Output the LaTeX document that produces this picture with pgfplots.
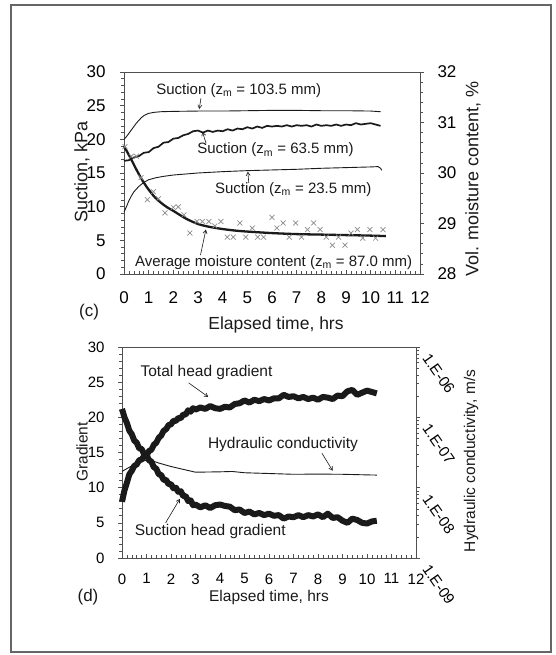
\documentclass[border=0pt]{standalone}
\usepackage{fontspec}
\setmainfont{Liberation Sans}
\usepackage{pgfplots}
\pgfplotsset{compat=1.18}
\usetikzlibrary{arrows.meta}
\definecolor{ln}{HTML}{1A1A1A}
\definecolor{ax}{HTML}{505050}
\definecolor{mk}{HTML}{8C8C8C}
\newcommand{\fs}[1]{\fontsize{#1}{#1}\selectfont}
\pgfplotsset{
  base/.style={scale only axis, xmin=0, xmax=12,
    /pgf/number format/assume math mode=true,
    axis line style={ax, line width=0.8pt},
    every tick/.style={ax, line width=0.6pt},
    major tick length=4pt, minor tick length=3pt,
    clip=false},
}
\tikzset{arr/.style={-{Straight Barb[length=3.5pt,width=4pt]}, line width=0.6pt, ln}}
\begin{document}
\begin{tikzpicture}
\useasboundingbox (0pt,0pt) rectangle (556pt,655pt);
\draw[line width=1.2pt, color=black!60] (11pt,3pt) rectangle (551pt,650pt);

% ---------------- panel (c) ----------------
\begin{axis}[base, at={(124pt,381pt)}, anchor=south west, width=296pt, height=202pt,
  ymin=0, ymax=30, ytick={0,5,...,30}, minor y tick num=4,
  xtick={0,...,12}, minor x tick num=4,
  xtick pos=bottom, ytick pos=left,
  xtick align=inside, ytick align=outside,
  xticklabel style={font=\fs{17}, yshift=-14pt},
  yticklabel style={font=\fs{17}, xshift=-11pt}]
\addplot[ln, line width=0.9pt] coordinates {(0,20.0)(0.1,20.4)(0.2,20.9)(0.3,21.4)(0.4,21.9)(0.5,22.4)(0.6,22.8)(0.7,23.2)(0.8,23.5)(0.9,23.7)(1.0,23.85)(1.2,24.0)(1.5,24.1)(2,24.15)(3,24.2)(4,24.2)(5,24.25)(6,24.3)(7,24.3)(8,24.25)(9,24.25)(10,24.2)(10.4,24.1)};
\addplot[ln, line width=1.7pt] coordinates {(0,16.8)(0.2,16.9)(0.4,17.3)(0.6,17.5)(0.8,18.0)(1.0,18.1)(1.2,18.7)(1.4,18.9)(1.6,19.5)(1.8,19.6)(2.0,20.1)(2.2,20.2)(2.4,20.6)(2.6,20.8)(2.8,21.2)(3.0,21.3)(3.2,21.0)(3.4,21.3)(3.6,21.1)(3.8,21.3)(4.0,21.2)(4.2,21.5)(4.4,21.3)(4.6,21.6)(4.8,21.5)(5.0,21.8)(5.2,21.6)(5.4,21.9)(5.6,21.7)(5.8,22.0)(6.0,21.9)(6.2,22.0)(6.4,21.9)(6.6,22.1)(6.8,21.9)(7.0,22.1)(7.2,22.0)(7.4,22.1)(7.6,21.9)(7.8,22.2)(8.0,22.0)(8.2,22.1)(8.4,22.0)(8.6,22.2)(8.8,22.0)(9.0,22.2)(9.2,22.1)(9.4,22.4)(9.6,22.2)(9.8,22.3)(10.0,22.4)(10.2,22.2)(10.4,22.0)};
\addplot[ln, line width=0.9pt] coordinates {(0,9.2)(0.1,10.0)(0.2,10.9)(0.3,11.6)(0.4,12.2)(0.5,12.6)(0.6,13.0)(0.7,13.3)(0.8,13.6)(1.0,14.0)(1.3,14.3)(1.6,14.5)(2,14.7)(2.5,14.85)(3,15.0)(4,15.2)(5,15.35)(6,15.45)(7,15.55)(8,15.7)(9,15.8)(10,15.9)(10.3,15.95)(10.4,15.7)(10.45,15.4)};
\node[font=\fs{15}, ln] at (axis cs:4.65,27.3) {Suction (z\textsubscript{m} = 103.5 mm)};
\draw[arr] (axis cs:3.12,26.1) -- (axis cs:3.05,24.5);
\node[font=\fs{15}, ln] at (axis cs:6.14,18.4) {Suction (z\textsubscript{m} = 63.5 mm)};
\draw[arr] (axis cs:3.33,19.4) -- (axis cs:3.18,21.1);
\node[font=\fs{15}, ln] at (axis cs:6.86,12.6) {Suction (z\textsubscript{m} = 23.5 mm)};
\draw[arr] (axis cs:5.06,13.5) -- (axis cs:5.02,15.2);
\node[font=\fs{15}, ln] at (axis cs:6.07,1.74) {Average moisture content (z\textsubscript{m} = 87.0 mm)};
\draw[arr] (axis cs:3.1,2.8) -- (axis cs:3.32,6.6);
\end{axis}
\begin{axis}[base, at={(124pt,381pt)}, anchor=south west, width=296pt, height=202pt,
  ymin=28, ymax=32, ytick={28,...,32}, minor y tick num=4,
  axis y line*=right, axis x line=none, ytick align=outside,
  yticklabel style={font=\fs{17}, xshift=10pt}]
\addplot[only marks, mark=x, mark size=3.5pt, mk, mark options={line width=0.7pt}] coordinates {
(0.04,30.52)(0.3,30.33)(0.5,30.33)(0.69,29.91)(0.95,29.47)(1.19,29.63)(1.39,29.49)(1.66,29.21)(2.0,29.32)(2.2,29.33)(2.43,29.17)(2.67,28.81)(2.96,29.04)(3.18,29.04)(3.44,29.04)(3.68,28.95)(3.93,29.04)(4.19,28.73)(4.43,28.73)(4.7,29.01)(4.94,28.73)(5.2,28.91)(5.42,28.73)(5.66,28.73)(6.0,29.12)(6.2,28.91)(6.45,29.01)(6.7,28.73)(6.96,29.01)(7.2,28.73)(7.44,28.88)(7.69,29.01)(7.95,28.88)(8.2,28.73)(8.45,28.57)(8.7,28.73)(8.96,28.57)(9.2,28.81)(9.46,28.88)(9.68,28.71)(9.97,28.88)(10.2,28.71)(10.5,28.88)};
\addplot[ln, line width=2.3pt, smooth] coordinates {(0,30.53)(0.25,30.31)(0.5,30.07)(0.75,29.85)(1,29.67)(1.25,29.52)(1.5,29.41)(1.75,29.32)(2,29.25)(2.5,29.1)(3,28.99)(3.5,28.93)(4,28.89)(4.5,28.86)(5,28.84)(6,28.81)(7,28.79)(8,28.78)(9,28.77)(10,28.76)(10.62,28.75)};
\end{axis}
\node[font=\fs{18}, rotate=90, ln] at (82pt,483pt) {Suction, kPa};
\node[font=\fs{18}, rotate=90, ln] at (473pt,476pt) {Vol. moisture content, \%};
\node[font=\fs{17.5}, ln] at (276pt,330pt) {Elapsed time, hrs};
\node[font=\fs{17}, ln] at (89pt,343pt) {(c)};

% ---------------- panel (d) ----------------
\begin{axis}[base, at={(122pt,97pt)}, anchor=south west, width=294pt, height=211pt,
  ymin=0, ymax=30, ytick={0,5,...,30}, minor y tick num=4,
  xtick={0,...,12}, minor x tick num=4,
  xtick pos=bottom, ytick pos=left,
  xtick align=inside, ytick align=outside,
  xticklabel style={font=\fs{15}, yshift=-12pt},
  yticklabel style={font=\fs{15}, xshift=-10pt}]
\addplot[ln, line width=6pt, line join=round] coordinates {(0,8.0)(0.1,9.6)(0.2,10.7)(0.3,11.9)(0.4,12.4)(0.5,13.1)(0.6,13.3)(0.7,13.9)(0.8,14.0)(0.9,14.5)(1.0,14.6)(1.1,15.2)(1.2,15.4)(1.3,16.1)(1.4,16.4)(1.5,17.1)(1.6,17.4)(1.7,18.1)(1.8,18.3)(1.9,18.9)(2.0,19.0)(2.1,19.5)(2.2,19.5)(2.3,19.9)(2.4,19.9)(2.5,20.4)(2.6,20.4)(2.7,21.0)(2.8,20.8)(2.9,21.3)(3.0,21.1)(3.2,21.4)(3.4,21.2)(3.6,21.6)(3.8,21.3)(4.0,21.2)(4.2,21.5)(4.4,21.4)(4.6,21.9)(4.8,22.0)(5.0,22.4)(5.2,22.1)(5.4,22.5)(5.6,22.3)(5.8,22.6)(6.0,22.4)(6.2,22.7)(6.4,22.7)(6.6,23.2)(6.8,22.9)(7.0,23.0)(7.2,22.7)(7.4,22.9)(7.6,22.6)(7.8,22.8)(8.0,22.5)(8.2,22.9)(8.4,22.8)(8.6,22.6)(8.8,23.1)(9.0,23.0)(9.2,23.7)(9.4,23.9)(9.6,23.2)(9.8,23.5)(10.0,23.8)(10.2,23.6)(10.4,23.4)};
\addplot[ln, line width=6pt, line join=round] coordinates {(0,21.2)(0.1,20.0)(0.2,19.2)(0.3,18.1)(0.4,17.6)(0.5,16.7)(0.6,16.4)(0.7,15.6)(0.8,15.5)(0.9,14.8)(1.0,14.7)(1.1,13.9)(1.2,13.7)(1.3,12.9)(1.4,12.7)(1.5,11.9)(1.6,11.8)(1.7,11.1)(1.8,11.1)(1.9,10.5)(2.0,10.5)(2.1,9.9)(2.2,10.0)(2.3,9.4)(2.4,9.5)(2.5,8.8)(2.6,8.8)(2.7,8.1)(2.8,8.2)(2.9,7.5)(3.0,7.6)(3.2,7.2)(3.4,7.5)(3.6,7.1)(3.8,7.5)(4.0,7.6)(4.2,7.4)(4.4,7.3)(4.6,6.8)(4.8,6.9)(5.0,6.4)(5.2,6.6)(5.4,6.2)(5.6,6.4)(5.8,6.1)(6.0,6.3)(6.2,6.0)(6.4,6.1)(6.6,5.6)(6.8,5.9)(7.0,5.8)(7.2,6.1)(7.4,5.8)(7.6,6.1)(7.8,5.9)(8.0,6.2)(8.2,5.8)(8.4,6.3)(8.6,5.7)(8.8,5.8)(9.0,5.3)(9.2,5.0)(9.4,5.6)(9.6,5.4)(9.8,5.0)(10.0,4.9)(10.2,5.2)(10.4,5.3)};
\node[font=\fs{15.5}, ln] at (axis cs:3.45,26.4) {Total head gradient};
\draw[arr] (axis cs:2.72,24.9) -- (axis cs:3.52,22.9);
\node[font=\fs{15.5}, ln] at (axis cs:6.57,16.1) {Hydraulic conductivity};
\draw[arr] (axis cs:8.16,14.9) -- (axis cs:8.6,12.4);
\node[font=\fs{15.5}, ln] at (axis cs:3.6,3.7) {Suction head gradient};
\draw[arr] (axis cs:1.78,5.0) -- (axis cs:2.36,8.4);
\end{axis}
\begin{axis}[base, at={(122pt,97pt)}, anchor=south west, width=294pt, height=211pt,
  ymode=log, ymin=1e-9, ymax=1e-6,
  axis y line*=right, axis x line=none, ytick align=outside,
  ytick={1e-9,1e-8,1e-7,1e-6},
  yticklabels={1.E-09,1.E-08,1.E-07,1.E-06},
  minor ytick={2e-9,3e-9,4e-9,5e-9,6e-9,7e-9,8e-9,9e-9,2e-8,3e-8,4e-8,5e-8,6e-8,7e-8,8e-8,9e-8,2e-7,3e-7,4e-7,5e-7,6e-7,7e-7,8e-7,9e-7},
  yticklabel style={font=\fs{15}, rotate=-55, anchor=west, xshift=7pt}]
\addplot[ln, line width=0.9pt] coordinates {(0,1.70e-8)(0.25,1.91e-8)(0.5,2.14e-8)(0.75,2.34e-8)(1.0,2.45e-8)(1.25,2.40e-8)(1.5,2.24e-8)(2.0,2.0e-8)(2.5,1.82e-8)(3.0,1.66e-8)(3.5,1.67e-8)(4.0,1.68e-8)(4.5,1.70e-8)(5.0,1.63e-8)(6.0,1.59e-8)(7.0,1.55e-8)(8.0,1.56e-8)(9.0,1.55e-8)(10.0,1.52e-8)(10.4,1.51e-8)};
\end{axis}
\node[font=\fs{15.5}, rotate=90, ln] at (82pt,203pt) {Gradient};
\node[font=\fs{15.5}, rotate=90, ln] at (471pt,194pt) {Hydraulic conductivity, m/s};
\node[font=\fs{15.5}, ln] at (269pt,58pt) {Elapsed time, hrs};
\node[font=\fs{17}, ln] at (88pt,58pt) {(d)};
\end{tikzpicture}
\end{document}
